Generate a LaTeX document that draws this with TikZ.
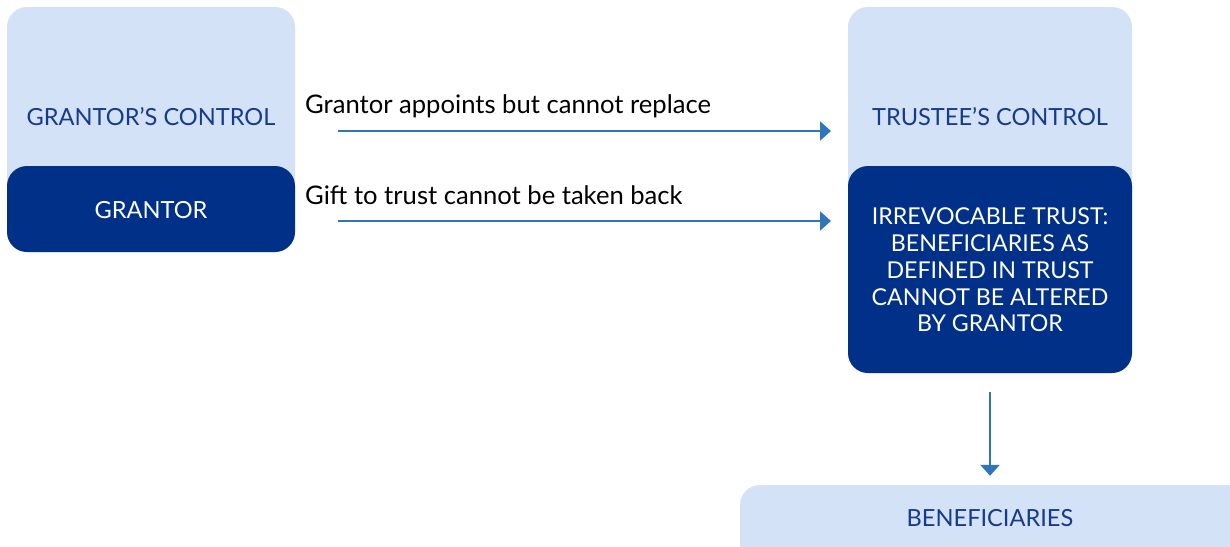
\documentclass[tikz,border=0pt]{standalone}
\usepackage{fontspec}
\setmainfont{Lato}
\usetikzlibrary{arrows.meta}
\definecolor{paleblue}{RGB}{211,226,246}
\definecolor{navy}{RGB}{0,48,135}
\definecolor{inkblue}{RGB}{22,58,140}
\definecolor{arrowblue}{RGB}{46,117,186}
\tikzset{
  lightbox/.style={fill=paleblue, draw=none, rounded corners=20pt},
  darkbox/.style={fill=navy, draw=none, rounded corners=20pt},
  lighttext/.style={text=inkblue, font=\fontsize{23.6}{28}\selectfont, inner sep=0pt},
  darktext/.style={text=white, font=\fontsize{23.2}{26.8}\selectfont, inner sep=0pt, align=center},
  flowlabel/.style={text=black, font=\fontsize{25.6}{30}\selectfont, inner sep=0pt, anchor=west},
  flow/.style={draw=arrowblue, line width=2.4pt, -{Triangle[length=11pt,width=19pt]}},
}
\begin{document}
\begin{tikzpicture}[x=1pt,y=-1pt]
  \useasboundingbox (0,0) rectangle (1230,546);
  \clip (0,0) rectangle (1230,546);

  % grantor side
  \path[lightbox] (7,7) rectangle (295,252);
  \node[lighttext] (gctl) at (151,117) {GRANTOR’S CONTROL};
  \path[darkbox] (7,166) rectangle (295,252);
  \node[inner sep=0pt, minimum width=288pt, minimum height=86pt] (grantor) at (151,209) {};
  \node[darktext, font=\fontsize{23.6}{28}\selectfont] (grantortxt) at (151,210) {GRANTOR};

  % trustee side
  \path[lightbox] (848,7) rectangle (1132,373);
  \node[lighttext] (tctl) at (990,117) {TRUSTEE’S CONTROL};
  \path[darkbox] (848,166) rectangle (1132,373);
  \node[inner sep=0pt, minimum width=284pt, minimum height=207pt] (trust) at (990,269.5) {};
  \node[darktext] (trusttxt) at (990,270) {IRREVOCABLE TRUST:\\BENEFICIARIES AS\\DEFINED IN TRUST\\CANNOT BE ALTERED\\BY GRANTOR};

  % beneficiaries
  \path[lightbox] (740,485) rectangle (1250,570);
  \node[inner sep=0pt, minimum width=500pt, minimum height=61pt] (benef) at (990,515.5) {};
  \node[lighttext] (beneftxt) at (990,518) {BENEFICIARIES};

  % connectors
  \coordinate (a1s) at (338,131);
  \coordinate (a1e) at (831,131);
  \coordinate (a2s) at (338,221);
  \coordinate (a2e) at (831,221);
  \draw[flow] (a1s) -- (a1e);
  \draw[flow] (a2s) -- (a2e);
  \node[flowlabel] (lbl1) at (305,106) {Grantor appoints but cannot replace};
  \node[flowlabel] (lbl2) at (305,195) {Gift to trust cannot be taken back};
  \draw[flow, shorten <=19pt, shorten >=9pt] (trust.south) -- (benef.north);
\end{tikzpicture}
\end{document}
